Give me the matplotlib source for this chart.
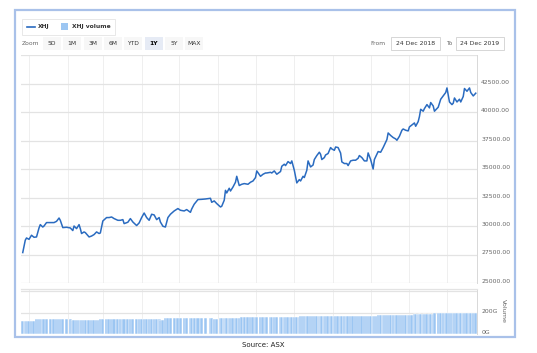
import numpy as np
import pandas as pd
import matplotlib
matplotlib.use('Agg')
import matplotlib.pyplot as plt
import matplotlib.dates as mdates
from matplotlib.patches import Rectangle

# days since 1 Jan 2019, XHJ index level and volume (G)
days = [-5, -3, -2, 0, 2, 4, 6, 8, 9, 11, 12, 14, 17, 20, 22, 24, 25, 27, 30, 33,
        35, 36, 38, 40, 41, 42, 44, 45, 48, 50, 52, 54, 56, 57, 59, 62, 64, 66, 68, 71,
        73, 75, 76, 79, 81, 83, 86, 88, 90, 92, 94, 96, 98, 100, 102, 104, 105, 107, 109, 111,
        113, 116, 119, 121, 124, 126, 129, 130, 132, 135, 138, 141, 145, 146, 148, 150, 153, 154, 156, 157,
        158, 160, 161, 163, 165, 166, 168, 170, 172, 175, 177, 179, 181, 182, 185, 187, 189, 190, 193, 194,
        196, 198, 201, 202, 204, 205, 207, 209, 210, 212, 214, 216, 217, 219, 220, 222, 223, 225, 227, 228,
        230, 232, 233, 234, 236, 237, 239, 241, 242, 244, 245, 247, 249, 250, 252, 254, 255, 257, 259, 261,
        263, 264, 266, 268, 270, 271, 273, 275, 276, 278, 279, 281, 283, 284, 286, 287, 289, 291, 293, 294,
        296, 298, 299, 301, 303, 304, 306, 308, 309, 311, 312, 313, 315, 316, 318, 320, 321, 323, 324, 327,
        329, 331, 333, 334, 336, 338, 339, 340, 342, 344, 345, 347, 348, 350, 352, 353, 355, 357]
xhj = [27670, 28750, 28950, 28830, 29190, 29010, 29040, 29830, 30120, 29910, 30000, 30300, 30300, 30300, 30410, 30700, 30500, 29860, 29890, 29830,
       29600, 30000, 29770, 30120, 29770, 29340, 29480, 29420, 29040, 29120, 29250, 29480, 29340, 29390, 30440, 30740, 30740, 30790, 30650, 30500,
       30500, 30560, 30210, 30330, 30650, 30350, 30040, 30270, 30740, 31140, 30740, 30500, 31030, 30970, 30560, 30740, 30350, 29980, 29910, 30740,
       31030, 31320, 31530, 31380, 31320, 31440, 31200, 31490, 31910, 32320, 32340, 32370, 32430, 32080, 32200, 31970, 31670, 31730, 32260, 33130,
       32900, 33310, 33070, 33420, 33840, 34360, 33550, 33660, 33720, 33660, 33840, 33950, 34250, 34830, 34360, 34540, 34650, 34650, 34710, 34650,
       34830, 34540, 34780, 35240, 35420, 35300, 35650, 35480, 35710, 34890, 33780, 34070, 33950, 34360, 34250, 34890, 35710, 35180, 35350, 35830,
       36180, 36470, 36290, 35830, 36000, 36230, 36360, 36880, 36760, 36640, 36930, 36880, 36400, 35620, 35480, 35480, 35300, 35710, 35770, 35770,
       35940, 36180, 36000, 35710, 35710, 36410, 35830, 35000, 35830, 36290, 36530, 36470, 36880, 37110, 37580, 38160, 37940, 37760, 37640, 37520,
       37870, 38400, 38510, 38400, 38340, 38690, 38870, 39040, 38750, 39160, 39600, 40240, 40070, 40300, 40650, 40360, 40830, 40530, 40070, 40420,
       41120, 41410, 41710, 42110, 40880, 40650, 40770, 41230, 40880, 41120, 40880, 41360, 42060, 41820, 42110, 41710, 41410, 41650]
volume = [126, 126, 126, 126, 126, 126, 139, 139, 139, 139, 139, 139, 139, 139, 139, 139, 139, 139, 139, 139,
          129, 129, 129, 129, 129, 129, 129, 129, 129, 129, 129, 129, 129, 142, 142, 142, 142, 142, 142, 142,
          142, 142, 142, 142, 142, 142, 142, 142, 142, 142, 142, 142, 142, 142, 142, 142, 129, 129, 145, 145,
          145, 145, 145, 145, 145, 145, 145, 152, 152, 152, 152, 152, 152, 152, 142, 142, 152, 152, 152, 152,
          152, 152, 152, 152, 152, 152, 152, 158, 158, 158, 158, 158, 158, 158, 158, 158, 158, 158, 158, 158,
          158, 161, 161, 161, 161, 161, 155, 155, 155, 155, 155, 155, 165, 165, 165, 165, 165, 165, 165, 165,
          165, 165, 165, 165, 165, 165, 165, 165, 165, 165, 165, 165, 165, 165, 165, 165, 165, 165, 165, 165,
          165, 165, 165, 168, 168, 168, 168, 168, 168, 168, 174, 174, 174, 174, 174, 174, 177, 177, 177, 177,
          181, 181, 181, 181, 181, 181, 181, 184, 184, 184, 184, 184, 184, 184, 184, 184, 184, 184, 194, 194,
          194, 194, 194, 194, 194, 194, 194, 194, 194, 194, 194, 194, 194, 194, 194, 194, 194, 194]

ytick_vals = np.arange(25000, 45001, 2500)
zoom_buttons = ['5D', '1M', '3M', '6M', 'YTD', '1Y', '5Y', 'MAX']
date_from = '24 Dec 2018'
date_to = '24 Dec 2019'

t0 = pd.Timestamp('2019-01-01')
dates = t0 + pd.to_timedelta(days, unit='D')

W, H = 537, 353
fig = plt.figure(figsize=(W / 100, H / 100), dpi=100)
plt.rcParams['font.family'] = 'DejaVu Sans'


def box(x0, y0, x1, y1):
    return [x0 / W, 1 - y1 / H, (x1 - x0) / W, (y1 - y0) / H]


def fx(x):
    return x / W


def fy(y):
    return 1 - y / H


line_col = '#2a6bc0'
vol_col = '#9cc6f2'
grid_col = '#e3e3e3'
vgrid_col = '#efefef'
label_col = '#666666'

# outer frame
fig.patches.append(Rectangle((fx(15), fy(337)), fx(515) - fx(15), fy(10) - fy(337),
                             transform=fig.transFigure, fill=False, edgecolor='#a9c1e9', lw=1.6))

# legend box
fig.patches.append(Rectangle((fx(22), fy(35)), fx(115) - fx(22), fy(19) - fy(35),
                             transform=fig.transFigure, fill=False, edgecolor='#e4e4e4', lw=0.6))
fig.lines.append(plt.Line2D([fx(27), fx(35)], [fy(26.5), fy(26.5)], transform=fig.transFigure,
                            color=line_col, lw=1.2))
fig.text(fx(38), fy(26.5), 'XHJ', fontsize=4.3, fontweight='bold', color='#333333', va='center')
fig.patches.append(Rectangle((fx(61), fy(29.5)), fx(7), fy(0) - fy(6.5),
                             transform=fig.transFigure, color=vol_col, lw=0))
fig.text(fx(72), fy(26.5), 'XHJ volume', fontsize=4.3, fontweight='bold', color='#333333', va='center')

# range selector
fig.text(fx(22), fy(43.5), 'Zoom', fontsize=4.3, color=label_col, va='center')
for i, lab in enumerate(zoom_buttons):
    x0 = 43 + 20.3 * i
    sel = lab == '1Y'
    fig.patches.append(Rectangle((fx(x0), fy(50)), fx(18), fy(0) - fy(13), transform=fig.transFigure,
                                 color='#e6ebf5' if sel else '#f7f7f7', lw=0))
    fig.text(fx(x0 + 9), fy(43.5), lab, fontsize=4.3, color='#000000' if sel else '#333333',
             fontweight='bold' if sel else 'normal', ha='center', va='center')

fig.text(fx(370), fy(43.5), 'From', fontsize=4.3, color=label_col, va='center')
fig.text(fx(446), fy(43.5), 'To', fontsize=4.3, color=label_col, va='center')
for x0, x1, txt in [(391, 440, date_from), (456, 504, date_to)]:
    fig.patches.append(Rectangle((fx(x0), fy(50)), fx(x1 - x0), fy(0) - fy(13), transform=fig.transFigure,
                                 fill=False, edgecolor='#d0d0d0', lw=0.6))
    fig.text(fx((x0 + x1) / 2), fy(43.5), txt, fontsize=4.4, color='#333333', ha='center', va='center')

# main price panel
ax = fig.add_axes(box(21, 55, 477, 283))
axv = fig.add_axes(box(21, 289, 477, 334), sharex=ax)

ax.plot(dates, xhj, color=line_col, lw=1.1, zorder=3)
ax.set_ylim(25000, 45000)
ax.set_yticks(ytick_vals)
ax.set_yticklabels([f'{v:.2f}' if v < 45000 else '' for v in ytick_vals])
ax.yaxis.tick_right()
ax.tick_params(axis='y', length=0, pad=3, labelsize=4.4, labelcolor=label_col)
for t in ax.get_yticklabels():
    t.set_va('baseline')

month_starts = pd.date_range('2019-01-01', '2019-12-01', freq='MS')
xlim = (mdates.date2num(t0) - 6.4, mdates.date2num(t0) + 358.0)
for a in (ax, axv):
    a.set_xticks(month_starts)
    a.tick_params(axis='x', length=0, labelbottom=False)
    a.set_xlim(xlim)
    for s in ['top', 'left', 'bottom']:
        a.spines[s].set_visible(False)
    a.spines['right'].set_color('#d8d8d8')
    a.spines['right'].set_linewidth(0.7)
    a.set_axisbelow(True)
    a.grid(axis='x', color=vgrid_col, lw=0.7)
    a.grid(axis='y', color=grid_col, lw=0.9)

# volume panel
axv.bar(dates, volume, width=2.6, color=vol_col, edgecolor='white', lw=0.35, zorder=2)
axv.set_ylim(0, 420)
axv.set_yticks([0, 200, 400])
axv.set_yticklabels(['0G', '200G', ''])
axv.yaxis.tick_right()
axv.tick_params(axis='y', length=0, pad=3, labelsize=4.4, labelcolor=label_col)
for t in axv.get_yticklabels():
    t.set_va('baseline')
axv.spines['top'].set_visible(True)
axv.spines['top'].set_color(grid_col)
axv.spines['top'].set_linewidth(0.9)
fig.text(fx(503), fy(311), 'Volume', rotation=-90, fontsize=4.6, color=label_col, ha='center', va='center')

fig.text(fx(263), fy(345), 'Source: ASX', fontsize=5.0, color='#222222', ha='center', va='center')

fig.savefig('out.png', dpi=100)
